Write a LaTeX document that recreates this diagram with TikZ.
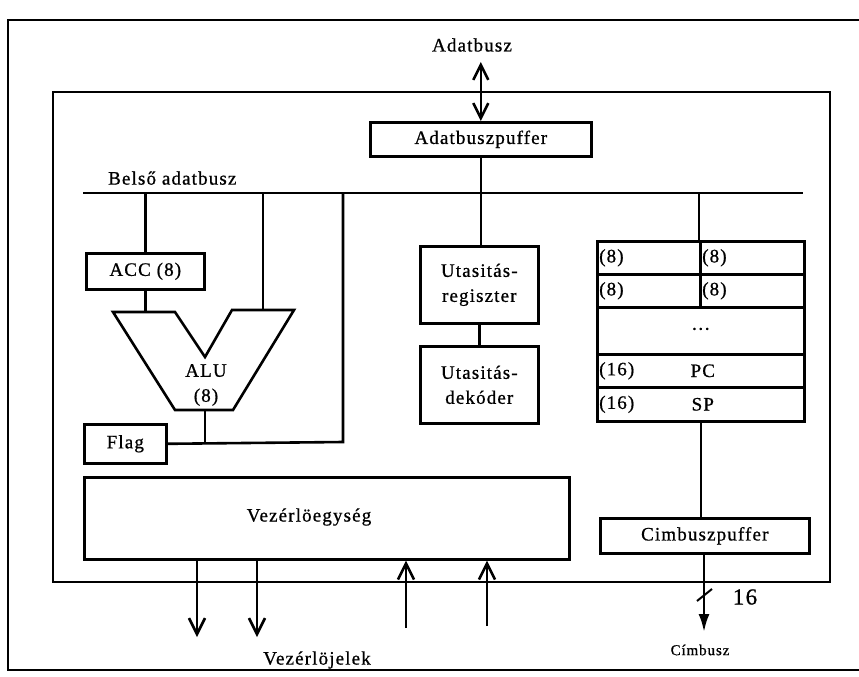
\documentclass[tikz,border=0pt]{standalone}
\usepackage{fontspec}
\setmainfont{Liberation Serif}[LetterSpace=6,FakeBold=0.8,AutoFakeBold=0.8]
\usetikzlibrary{arrows.meta}
\tikzset{
  ln/.style={line width=2.6pt},
  box/.style={draw, line width=2.6pt, inner sep=0pt, anchor=north west},
  arr/.style={line width=2.6pt, -{Straight Barb[length=16pt,width=16pt,line width=2.6pt]}},
  darr/.style={line width=2.6pt, {Straight Barb[length=15pt,width=15pt,line width=2.6pt]}-{Straight Barb[length=15pt,width=15pt,line width=2.6pt]}},
  farr/.style={line width=2.6pt, -{Latex[length=18pt,width=11pt]}},
  lbl/.style={inner sep=0pt}
}
\begin{document}
\begin{tikzpicture}[x=1pt,y=-1pt,font=\fontsize{19}{25}\selectfont\bfseries]
\useasboundingbox (0,0) rectangle (859,677);
% outer frame (open on the right)
\coordinate (oTR) at (859,20);
\coordinate (oTL) at (8,20);
\coordinate (oBL) at (8,670);
\coordinate (oBR) at (859,670);
\draw[ln] (oTR) -- (oTL) -- (oBL) -- (oBR);
% inner frame
\coordinate (iTL) at (53,92);
\coordinate (iBR) at (830,582);
\draw[ln] (iTL) rectangle (iBR);

% data bus
\node[lbl] (adatbusz) at (472,45) {Adatbusz};
\node[box, minimum width=221pt, minimum height=34pt] (apuf) at (369,121) {Adatbuszpuffer};
\coordinate (adTop) at (apuf.north |- 0,62);
\draw[darr] (adTop) -- (apuf.north);

% internal bus
\coordinate (busL) at (83,193);
\coordinate (busR) at (803,193);
\draw[ln] (busL) -- (busR);
\node[lbl, anchor=south west] (belso) at (108,185) {Belső adatbusz};

% ACC
\node[box, minimum width=118pt, minimum height=36pt] (acc) at (85,252) {ACC (8)};
\draw[ln] (acc.north) -- (acc.north |- busL);

% ALU
\coordinate (a1) at (113,312);
\coordinate (a2) at (175,312);
\coordinate (a3) at (205,357);
\coordinate (a4) at (232,310);
\coordinate (a5) at (294,310);
\coordinate (a6) at (233,410);
\coordinate (a7) at (175,410);
\draw[ln, line join=miter] (a1) -- (a2) -- (a3) -- (a4) -- (a5) -- (a6) -- (a7) -- cycle;
\node[lbl, align=center] (alu) at (206,385) {ALU\\(8)};
\draw[ln] (acc.south) -- (acc.south |- a1);
\coordinate (rin) at (263,310);
\draw[ln] (rin) -- (rin |- busL);
\coordinate (aluout) at (205,410);

% Flag
\node[box, minimum width=82pt, minimum height=39pt] (flag) at (83,423) {Flag};
\coordinate (fj) at (343,442);
\draw[ln] (flag.east) -- (fj) -- (fj |- busL);
\draw[ln] (aluout) -- (aluout |- flag.east);

% instruction register / decoder
\node[box, minimum width=118pt, minimum height=77pt, align=center] (ureg) at (419,245) {Utasitás-\\regiszter};
\node[box, minimum width=118pt, minimum height=77pt, align=center] (udek) at (419,345) {Utasitás-\\dekóder};
\draw[ln] (apuf.south) -- (apuf.south |- ureg.north);
\draw[ln] (ureg.south) -- (udek.north);

% register file
\node[box, minimum width=103pt, minimum height=33pt] (r1a) at (596,240) {};
\node[box, minimum width=104pt, minimum height=33pt] (r1b) at (699,240) {};
\node[box, minimum width=103pt, minimum height=33pt] (r2a) at (596,273) {};
\node[box, minimum width=104pt, minimum height=33pt] (r2b) at (699,273) {};
\node[box, minimum width=207pt, minimum height=47pt] (rdots) at (596,306) {\raisebox{4pt}{\dots}};
\node[box, minimum width=207pt, minimum height=33pt] (rpc) at (596,353) {};
\node[box, minimum width=207pt, minimum height=34pt] (rsp) at (596,386) {};
\node[lbl, anchor=west] at ([xshift=3pt]r1a.west) {(8)};
\node[lbl, anchor=west] at ([xshift=3pt]r1b.west) {(8)};
\node[lbl, anchor=west] at ([xshift=3pt]r2a.west) {(8)};
\node[lbl, anchor=west] at ([xshift=3pt]r2b.west) {(8)};
\node[lbl, anchor=west] at ([xshift=3pt]rpc.west) {(16)};
\node[lbl] at ([xshift=2pt]rpc.center) {PC};
\node[lbl, anchor=west] at ([xshift=3pt]rsp.west) {(16)};
\node[lbl] at ([xshift=2pt]rsp.center) {SP};
\draw[ln] (r1b.north west) -- (r1b.north west |- busL);

% address buffer
\node[box, minimum width=209pt, minimum height=35pt] (cpuf) at (599,517) {Cimbuszpuffer};
\draw[ln] (rsp.south) -- (rsp.south |- cpuf.north);
\coordinate (cbus) at (704,632);
\draw[farr] (cpuf.south -| cbus) -- (cbus);
\coordinate (s1) at (697,601);
\coordinate (s2) at (712,589);
\draw[line width=2pt] (s1) -- (s2);
\node[lbl, font=\fontsize{23}{25}\selectfont] (n16) at (745,597) {16};
\node[lbl, font=\fontsize{15}{18}\selectfont] (cimbusz) at (700,650) {Címbusz};

% control unit
\node[box, minimum width=485pt, minimum height=82pt] (vez) at (83,476) {};
\node[lbl] (veztxt) at (309,517) {Vezérlöegység};
\coordinate (o1) at (197,637);
\coordinate (o2) at (257,637);
\coordinate (i1) at (406,628);
\coordinate (i2) at (487,626);
\draw[arr] (o1 |- vez.south) -- (o1);
\draw[arr] (o2 |- vez.south) -- (o2);
\draw[arr] (i1) -- (i1 |- vez.south);
\draw[arr] (i2) -- (i2 |- vez.south);
\node[lbl] (vjel) at (317,660) {Vezérlöjelek};
\end{tikzpicture}
\end{document}
